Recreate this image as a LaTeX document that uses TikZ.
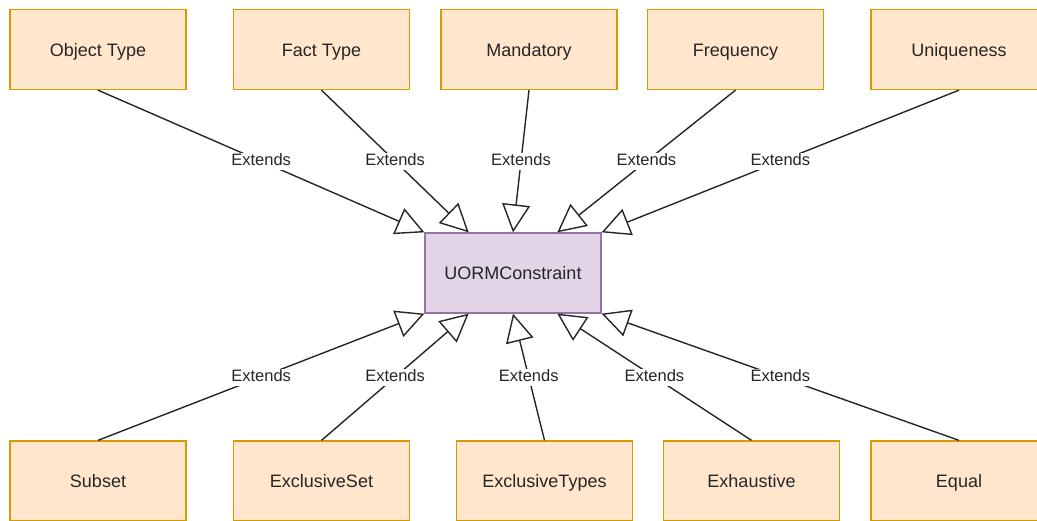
\documentclass[tikz,border=0pt]{standalone}
\usepackage{fontspec}
\setmainfont{Liberation Sans}
\usetikzlibrary{arrows.meta,calc}
\definecolor{boxfill}{HTML}{FFE6CC}
\definecolor{boxline}{HTML}{D79B00}
\definecolor{corefill}{HTML}{E1D5E7}
\definecolor{coreline}{HTML}{9673A6}
\tikzset{
  kind/.style={draw=boxline,fill=boxfill,line width=1.3pt,minimum width=176pt,minimum height=80pt,
    text height=13pt,text depth=0pt,text=black!85,font=\fontsize{18}{20}\selectfont},
  core/.style={kind,draw=coreline,fill=corefill},
  extends/.style={draw=black!85,line width=1.4pt,-{Triangle[open,length=28pt,width=28pt,line width=1.4pt]}},
  extlabel/.style={fill=white,inner sep=1pt,text height=12pt,text depth=3pt,text=black!85,font=\fontsize{16.5}{18}\selectfont}
}
\begin{document}
\begin{tikzpicture}[x=1pt,y=-1pt]
\useasboundingbox (0,0) rectangle (1037,520);
% constraint in the middle
\node[core] (uorm) at (513,273) {UORMConstraint};
% upper row
\node[kind] (objtype) at (98,49.5) {Object Type};
\node[kind] (facttype) at (321.5,49.5) {Fact Type};
\node[kind] (mandatory) at (529,49.5) {Mandatory};
\node[kind] (frequency) at (735.5,49.5) {Frequency};
\node[kind] (uniqueness) at (959,49.5) {Uniqueness};
% lower row
\node[kind] (subset) at (98,481) {Subset};
\node[kind] (exclset) at (321.5,481) {ExclusiveSet};
\node[kind] (excltypes) at (544.5,481) {ExclusiveTypes};
\node[kind] (exhaustive) at (751.5,481) {Exhaustive};
\node[kind] (equal) at (959,481) {Equal};
% attach points along the edges of the constraint
\foreach \i/\f in {0/0,1/0.25,2/0.5,3/0.75,4/1} {
  \coordinate (top\i) at ($(uorm.north west)!\f!(uorm.north east)$);
  \coordinate (bot\i) at ($(uorm.south west)!\f!(uorm.south east)$);
}
\foreach \n/\i in {objtype/0,facttype/1,mandatory/2,frequency/3,uniqueness/4}
  \draw[extends] (\n.south) -- node[extlabel]{Extends} (top\i);
\foreach \n/\i in {subset/0,exclset/1,excltypes/2,exhaustive/3,equal/4}
  \draw[extends] (\n.north) -- node[extlabel]{Extends} (bot\i);
\end{tikzpicture}
\end{document}
